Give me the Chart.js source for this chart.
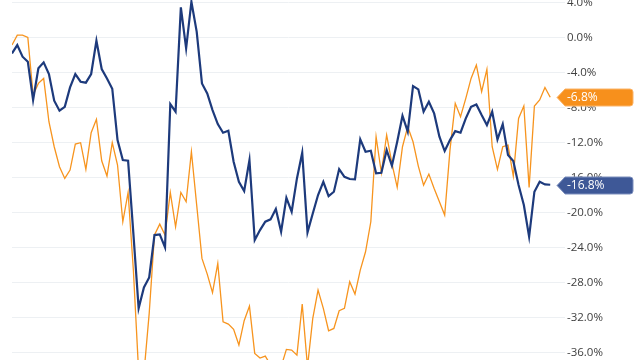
<!DOCTYPE html>
<html>
<head>
<meta charset="utf-8">
<script src="https://cdn.jsdelivr.net/npm/chart.js@4/dist/chart.umd.min.js"></script>
<style>
  html, body { margin: 0; padding: 0; background: #ffffff; }
  #wrap { width: 640px; height: 360px; }
</style>
</head>
<body>
<div id="wrap"><canvas id="c" width="640" height="360"></canvas></div>
<script>
// ---- data ----
const navySeries = [
  -1.79, -0.84, -2.17, -2.74, -7.12, -3.50, -2.82, -4.15, -7.20, -8.34,
  -7.89, -5.68, -4.15, -5.03, -5.14, -4.15, -0.34, -3.58, -4.65, -5.83,
  -11.70, -13.98, -14.06, -22.36, -30.93, -28.53, -27.39, -22.55, -22.48, -23.96,
  -7.58, -8.46, 3.47, -1.22, 4.11, 0.69, -5.22, -6.36, -8.27, -9.87,
  -10.86, -10.63, -14.17, -16.46, -17.52, -13.98, -23.12, -21.98, -21.03, -20.76,
  -19.58, -22.17, -18.29, -19.89, -16.08, -13.14, -22.25, -20.08, -17.98, -16.46,
  -18.10, -17.60, -15.01, -15.89, -16.15, -16.19, -11.62, -13.03, -12.91, -15.50,
  -15.43, -12.84, -14.63, -11.89, -8.91, -10.74, -5.52, -5.90, -8.46, -7.31,
  -8.65, -11.31, -12.95, -11.70, -10.67, -10.86, -9.22, -7.89, -7.62, -8.84,
  -9.98, -8.46, -11.62, -9.87, -13.41, -14.10, -16.84, -19.12, -22.74, -17.60,
  -16.46, -16.76, -16.80
];
const orangeSeries = [
  -0.84, 0.30, 0.30, 0.04, -6.55, -5.22, -4.65, -9.60, -12.46, -14.74,
  -16.08, -15.12, -12.15, -12.00, -15.05, -10.86, -9.33, -14.06, -15.81, -12.00,
  -14.55, -21.03, -17.68, -26.55, -38.20, -38.40, -31.50, -22.55, -21.30, -22.55,
  -17.68, -21.60, -17.68, -18.74, -13.03, -19.12, -25.22, -27.01, -29.14, -25.79,
  -32.46, -32.72, -33.33, -35.12, -32.34, -30.67, -36.08, -36.61, -36.38, -37.40,
  -38.20, -37.60, -35.62, -35.70, -36.27, -30.44, -37.60, -32.08, -28.84, -30.93,
  -33.49, -33.22, -31.20, -30.93, -27.89, -29.30, -26.55, -24.46, -21.03, -11.31,
  -15.43, -11.12, -14.36, -17.10, -12.46, -10.17, -11.89, -14.67, -16.84, -15.58,
  -17.22, -18.74, -20.27, -12.84, -7.50, -9.03, -6.93, -4.65, -3.12, -6.17,
  -3.62, -12.46, -15.05, -12.46, -12.27, -15.81, -9.22, -7.81, -17.10, -7.81,
  -7.12, -5.68, -6.80
];
const yTickValues = [4, 0, -4, -8, -12, -16, -20, -24, -28, -32, -36];

const NAVY = '#1d3a7c';
const ORANGE = '#f7941e';

const lastValueLabels = {
  id: 'lastValueLabels',
  afterDraw(chart) {
    const ctx = chart.ctx;
    const ys = chart.scales.y;
    const area = chart.chartArea;
    const items = [
      { values: orangeSeries, fill: '#f7901c', stroke: '#fbb469' },
      { values: navySeries, fill: '#3e5897', stroke: '#7d8fbd' }
    ];
    items.forEach(it => {
      const v = it.values[it.values.length - 1];
      const y = Math.round(ys.getPixelForValue(v)) + 0.5;
      const tip = area.right - 8, left = area.right, right = area.right + 68, h = 17, r = 3;
      ctx.save();
      ctx.beginPath();
      ctx.moveTo(tip, y);
      ctx.lineTo(left, y - h / 2);
      ctx.lineTo(right - r, y - h / 2);
      ctx.quadraticCurveTo(right, y - h / 2, right, y - h / 2 + r);
      ctx.lineTo(right, y + h / 2 - r);
      ctx.quadraticCurveTo(right, y + h / 2, right - r, y + h / 2);
      ctx.lineTo(left, y + h / 2);
      ctx.closePath();
      ctx.fillStyle = it.fill;
      ctx.fill();
      ctx.lineWidth = 1;
      ctx.strokeStyle = it.stroke;
      ctx.stroke();
      ctx.fillStyle = '#ffffff';
      ctx.font = '12px "Open Sans", sans-serif';
      ctx.textAlign = 'left';
      ctx.textBaseline = 'middle';
      ctx.fillText(v.toFixed(1) + '%', left + 2, y + 0.5);
      ctx.restore();
    });
  }
};

new Chart(document.getElementById('c'), {
  type: 'line',
  data: {
    datasets: [
      {
        label: 'Series 1',
        data: navySeries.map((v, i) => ({ x: i, y: v })),
        borderColor: NAVY,
        borderWidth: 2.2,
        pointRadius: 0,
        tension: 0,
        fill: false
      },
      {
        label: 'Series 2',
        data: orangeSeries.map((v, i) => ({ x: i, y: v })),
        borderColor: ORANGE,
        borderWidth: 1.3,
        pointRadius: 0,
        tension: 0,
        fill: false
      }
    ]
  },
  options: {
    responsive: false,
    animation: false,
    devicePixelRatio: 1,
    layout: { padding: { left: 12, right: 0, top: 0, bottom: 0 } },
    plugins: { legend: { display: false }, tooltip: { enabled: false } },
    scales: {
      x: { type: 'linear', min: 0, max: 104.8, display: false },
      y: {
        position: 'right',
        min: -36.83,
        max: 4.31,
        afterBuildTicks: s => { s.ticks = yTickValues.map(v => ({ value: v })); },
        afterFit: s => { s.width = 75; s.paddingTop = 0; s.paddingBottom = 0; },
        grid: { color: '#edf0f3', drawTicks: false, lineWidth: 1 },
        border: { display: false },
        ticks: {
          padding: 2,
          color: '#404040',
          font: { family: '"Open Sans", sans-serif', size: 11.5 },
          callback: v => v.toFixed(1) + '%'
        }
      }
    }
  },
  plugins: [lastValueLabels]
});
</script>
</body>
</html>
